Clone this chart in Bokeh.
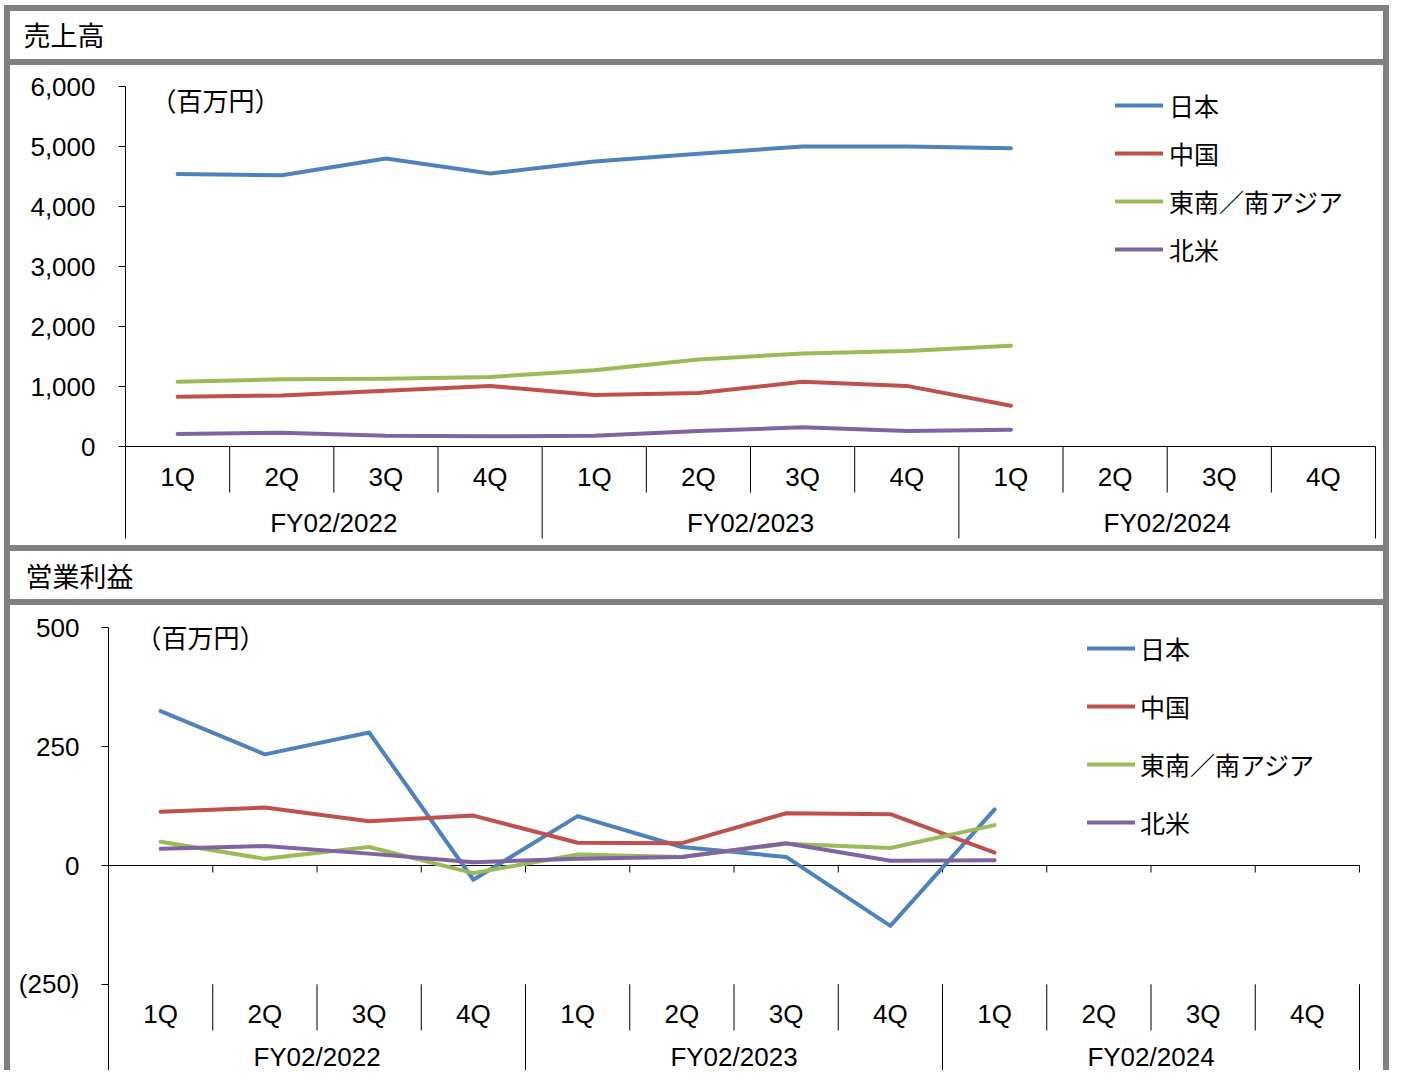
from bokeh.plotting import figure
from bokeh.models import Range1d, FixedTicker, NumeralTickFormatter, Legend, LegendItem, Label, ColumnDataSource
from bokeh.layouts import column, row
from bokeh.core.properties import value
from bokeh.embed import file_html
from bokeh.resources import INLINE

# ---------------- data ----------------
quarters = ["1Q", "2Q", "3Q", "4Q"] * 3
years = ["FY02/2022", "FY02/2023", "FY02/2024"]
regions = ["日本", "中国", "東南／南アジア", "北米"]
colors = ["#4F81BD", "#C0504D", "#9BBB59", "#8064A2"]

sales_japan = [4540, 4520, 4800, 4550, 4750, 4880, 5000, 5000, 4970]
sales_china = [830, 850, 930, 1010, 860, 890, 1080, 1010, 680]
sales_sea = [1080, 1120, 1130, 1160, 1270, 1450, 1550, 1590, 1680]
sales_na = [210, 230, 180, 170, 180, 260, 320, 260, 280]

op_japan = [325, 234, 280, -30, 104, 39, 18, -127, 118]
op_china = [113, 122, 93, 105, 48, 47, 110, 108, 27]
op_sea = [50, 14, 39, -16, 23, 18, 46, 37, 85]
op_na = [35, 41, 25, 7, 14, 18, 47, 10, 11]

sales_ticks = [0, 1000, 2000, 3000, 4000, 5000, 6000]
op_ticks = [-250, 0, 250, 500]

unit_label = "（百万円）"
titles = ["売上高", "営業利益"]

LATIN = "Liberation Sans"
CJK = "Noto Sans CJK JP"
W = 1373          # inner width of each panel
BL, BR = 98, 7    # left/right borders of the chart figures
SHIFT1 = 17       # chart 1 starts a little further right


def title_fig(text, left, from_bottom):
    t = figure(width=W, height=48, x_range=Range1d(0, 1), y_range=Range1d(0, 1),
               x_axis_type=None, y_axis_type=None, toolbar_location=None,
               output_backend="svg", min_border=0)
    t.outline_line_color = None
    t.background_fill_color = "white"
    t.border_fill_color = "white"
    t.xgrid.visible = False
    t.ygrid.visible = False
    t.add_layout(Label(x=left, y=from_bottom, x_units="screen", y_units="screen",
                       text=text, text_font=CJK, text_font_size="27px",
                       text_baseline="middle", text_align="left", text_color="black"))
    return t


def chart(series, ticks, fmt, width, height, cat_px, y_start, y_end,
          px_per_unit, zero_ticks, cat_top, q_sep_px, g_sep_px, q_lab_px, y_lab_px,
          standoff, legend_loc, legend_spacing, legend_standoff, unit_pos):
    frame_w = width - BL - BR
    p = figure(width=width, height=height, x_range=Range1d(0, frame_w / cat_px),
               y_range=Range1d(y_start, y_end), x_axis_type=None,
               toolbar_location=None, output_backend="svg",
               min_border_left=BL, min_border_right=BR,
               min_border_top=0, min_border_bottom=0)
    p.outline_line_color = None
    p.background_fill_color = "white"
    p.border_fill_color = "white"
    p.ygrid.grid_line_color = None

    n_cat = len(quarters)
    per_year = n_cat // len(years)
    y_bottom = -g_sep_px / px_per_unit

    ax = p.yaxis[0]
    ax.ticker = FixedTicker(ticks=ticks, minor_ticks=[])
    ax.formatter = NumeralTickFormatter(format=fmt)
    ax.bounds = (y_bottom, max(ticks))
    ax.axis_line_color = "black"
    ax.major_tick_line_color = "black"
    ax.major_tick_out = 7
    ax.major_tick_in = 0
    ax.minor_tick_line_color = None
    ax.major_label_standoff = standoff
    ax.major_label_text_font = LATIN
    ax.major_label_text_font_size = "26px"
    ax.major_label_text_color = "black"

    # horizontal axis at zero
    p.segment(x0=[0], y0=[0], x1=[n_cat], y1=[0], line_color="black", line_width=1)
    if zero_ticks:
        t_len = 7 / px_per_unit
        xs = list(range(1, n_cat + 1))
        p.segment(x0=xs, y0=[0] * len(xs), x1=xs, y1=[-t_len] * len(xs),
                  line_color="black", line_width=1)

    # category separators
    qx = [i for i in range(1, n_cat) if i % per_year != 0]
    gx = [i for i in range(per_year, n_cat + 1, per_year)]
    q_bottom = -q_sep_px / px_per_unit
    p.segment(x0=qx, y0=[cat_top] * len(qx), x1=qx, y1=[q_bottom] * len(qx),
              line_color="black", line_width=1)
    p.segment(x0=gx, y0=[cat_top] * len(gx), x1=gx, y1=[y_bottom] * len(gx),
              line_color="black", line_width=1)

    # category labels
    qsrc = ColumnDataSource(dict(x=[i + 0.5 for i in range(n_cat)],
                                 y=[-q_lab_px / px_per_unit] * n_cat, t=quarters))
    p.text(x="x", y="y", text="t", source=qsrc, text_font=value(LATIN),
           text_font_size="26px", text_align="center", text_baseline="middle",
           text_color="black")
    ysrc = ColumnDataSource(dict(x=[per_year * i + per_year / 2 for i in range(len(years))],
                                 y=[-y_lab_px / px_per_unit] * len(years), t=years))
    p.text(x="x", y="y", text="t", source=ysrc, text_font=value(LATIN),
           text_font_size="26px", text_align="center", text_baseline="middle",
           text_color="black")

    # data lines
    xs = [i + 0.5 for i in range(len(series[0]))]
    items = []
    for name, vals, c in zip(regions, series, colors):
        r = p.line(xs, vals, line_color=c, line_width=4, line_cap="round", line_join="round")
        items.append(LegendItem(label=name, renderers=[r]))

    legend = Legend(items=items, location=legend_loc, orientation="vertical",
                    glyph_width=48, glyph_height=36, label_height=36,
                    label_standoff=legend_standoff, spacing=legend_spacing,
                    padding=0, margin=0, border_line_color=None,
                    background_fill_alpha=0, label_text_font=CJK,
                    label_text_font_size="25px", label_text_color="black")
    p.add_layout(legend)

    p.add_layout(Label(x=unit_pos[0], y=unit_pos[1], x_units="screen", y_units="screen",
                       text=unit_label, text_font=CJK, text_font_size="26px",
                       text_align="center", text_baseline="middle", text_color="black"))
    return p


t1 = title_fig(titles[0], 13, 25)
p1 = chart([sales_japan, sales_china, sales_sea, sales_na], sales_ticks, "0,0",
           width=W - SHIFT1, height=480, cat_px=104.17,
           y_start=-1650, y_end=6350, px_per_unit=0.06, zero_ticks=False,
           cat_top=0, q_sep_px=46, g_sep_px=92, q_lab_px=30, y_lab_px=76,
           standoff=23, legend_loc=(990, 278), legend_spacing=12, legend_standoff=6,
           unit_pos=(90, 446))

t2 = title_fig(titles[1], 15, 24)
s2 = 260 / 547.3
p2 = chart([op_japan, op_china, op_sea, op_na], op_ticks, "(0,0)",
           width=W, height=465, cat_px=104.25,
           y_start=-205 / s2, y_end=260 / s2, px_per_unit=s2, zero_ticks=True,
           cat_top=-250, q_sep_px=165, g_sep_px=205, q_lab_px=148, y_lab_px=191,
           standoff=22, legend_loc=(979, 230), legend_spacing=22, legend_standoff=5,
           unit_pos=(92, 434))

WHITE = {"background-color": "white"}
layout = column(row(t1, styles=WHITE),
                row(p1, styles={"padding-left": f"{SHIFT1}px", "background-color": "white"}),
                row(t2, styles=WHITE),
                row(p2, styles=WHITE),
                spacing=6,
                styles={"background-color": "#808080", "padding": "6px 6px 0px 6px",
                        "margin-left": "4px", "margin-top": "5px"})

open("out.html", "w").write(file_html(layout, INLINE))
